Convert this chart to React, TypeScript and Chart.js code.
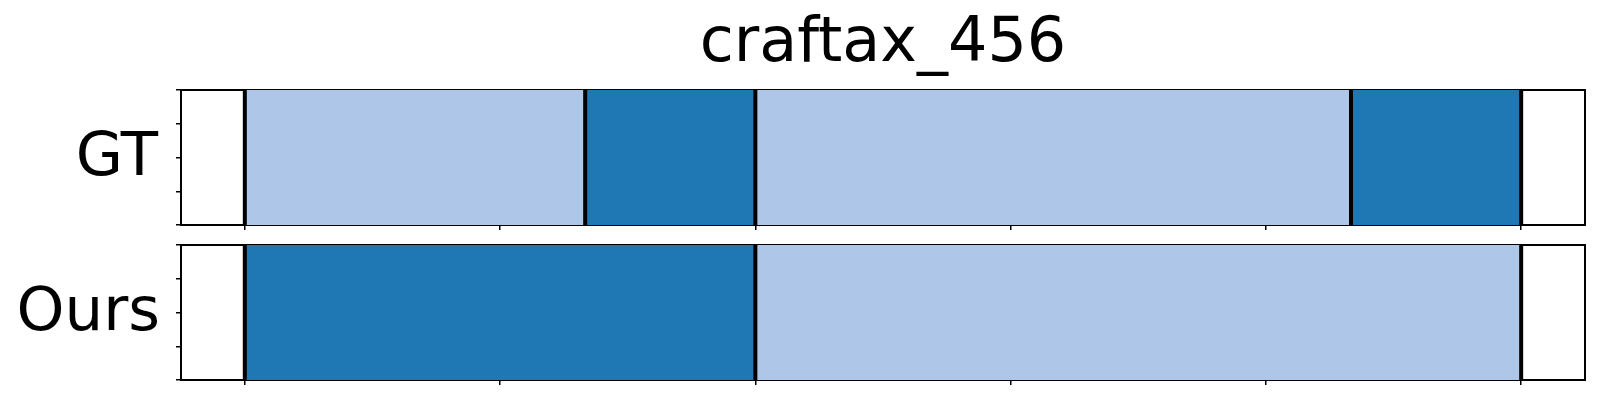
import React, { useEffect, useRef } from "react";
import { Chart, registerables } from "chart.js";

Chart.register(...registerables);

// ---- data ----
const TITLE = "craftax_456";
const ROW_LABELS = ["GT", "Ours"];
const GT_BOUNDS = [0, 4, 6, 13, 15];
const GT_CLASSES = [0, 1, 0, 1];
const OURS_BOUNDS = [0, 6, 15];
const OURS_CLASSES = [1, 0];
const X_TICKS = [0, 3, 6, 9, 12, 15];
const Y_TICKS = [0, 0.25, 0.5, 0.75, 1];
const X_RANGE = [-0.75, 15.75];

// ---- styles ----
const CLASS_COLORS = ["#aec7e8", "#1f77b4"];
const TITLE_FONT = '62px "DejaVu Sans"';
const LABEL_FONT = '61px "DejaVu Sans"';

function buildDatasets(bounds: number[], classes: number[]) {
  const segs = classes.map((c, i) => ({
    type: "line",
    data: [
      { x: bounds[i], y: 1 },
      { x: bounds[i + 1], y: 1 },
    ],
    borderColor: "rgba(0,0,0,0)",
    borderWidth: 1,
    backgroundColor: CLASS_COLORS[c],
    pointRadius: 0,
    fill: "start",
    order: 2,
    xAxisID: "x",
    yAxisID: "y",
  }));
  const lines = bounds.map((b) => ({
    type: "line",
    data: [
      { x: b, y: 0 },
      { x: b, y: 1 },
    ],
    borderColor: "#000000",
    borderWidth: 4,
    pointRadius: 0,
    fill: false,
    order: 1,
    xAxisID: "x",
    yAxisID: "y",
  }));
  return [...segs, ...lines];
}

function makeTextPlugin(label: string, title: string | null, labelShift: number) {
  return {
    id: "panelTexts",
    afterDraw(chart: any) {
      const { ctx, chartArea } = chart;
      ctx.save();
      ctx.fillStyle = "#000000";
      ctx.textBaseline = "alphabetic";
      ctx.font = LABEL_FONT;
      ctx.textAlign = "right";
      ctx.fillText(label, chartArea.left - 23 + labelShift, (chartArea.top + chartArea.bottom) / 2 + 17);
      if (title) {
        ctx.font = TITLE_FONT;
        ctx.textAlign = "center";
        ctx.fillText(title, (chartArea.left + chartArea.right) / 2, chartArea.top - 28.6);
      }
      ctx.restore();
    },
  };
}

function makeConfig(
  bounds: number[],
  classes: number[],
  label: string,
  title: string | null,
  padding: any,
  labelShift: number
) {
  const border = { display: true, color: "#000000", width: 2 };
  return {
    type: "line",
    data: { datasets: buildDatasets(bounds, classes) },
    options: {
      animation: false,
      responsive: false,
      maintainAspectRatio: false,
      layout: { padding },
      plugins: {
        legend: { display: false },
        tooltip: { enabled: false },
        title: { display: false },
      },
      scales: {
        x: {
          type: "linear",
          position: "bottom",
          min: X_RANGE[0],
          max: X_RANGE[1],
          afterBuildTicks: (ax: any) => {
            ax.ticks = X_TICKS.map((v) => ({ value: v }));
          },
          ticks: { display: false },
          grid: { drawOnChartArea: false, drawTicks: true, tickLength: 5, color: "#000000", lineWidth: 1.5 },
          border,
        },
        y: {
          type: "linear",
          position: "left",
          min: 0,
          max: 1,
          afterBuildTicks: (ax: any) => {
            ax.ticks = Y_TICKS.map((v) => ({ value: v }));
          },
          ticks: { display: false },
          grid: { drawOnChartArea: false, drawTicks: true, tickLength: 5, color: "#000000", lineWidth: 1.5 },
          border,
        },
        xTop: {
          type: "linear",
          position: "top",
          display: true,
          min: X_RANGE[0],
          max: X_RANGE[1],
          ticks: { display: false },
          grid: { drawOnChartArea: false, drawTicks: false },
          border,
        },
        yRight: {
          type: "linear",
          position: "right",
          display: true,
          min: 0,
          max: 1,
          ticks: { display: false },
          grid: { drawOnChartArea: false, drawTicks: false },
          border,
        },
      },
    },
    plugins: [makeTextPlugin(label, title, labelShift)],
  };
}

export default function App() {
  const topRef = useRef<HTMLCanvasElement>(null);
  const botRef = useRef<HTMLCanvasElement>(null);

  useEffect(() => {
    const c1 = new Chart(
      topRef.current as HTMLCanvasElement,
      makeConfig(GT_BOUNDS, GT_CLASSES, ROW_LABELS[0], TITLE, { left: 176, right: 15, top: 90, bottom: 10 }, 0) as any
    );
    const c2 = new Chart(
      botRef.current as HTMLCanvasElement,
      makeConfig(OURS_BOUNDS, OURS_CLASSES, ROW_LABELS[1], null, { left: 176, right: 15, top: 5, bottom: 15 }, 2) as any
    );
    return () => {
      c1.destroy();
      c2.destroy();
    };
  }, []);

  return (
    <div style={{ position: "absolute", left: 0, top: 0, width: 1600, height: 400, background: "#ffffff" }}>
      <canvas
        ref={topRef}
        width={1600}
        height={240}
        style={{ position: "absolute", left: 0, top: 0, width: 1600, height: 240 }}
      />
      <canvas
        ref={botRef}
        width={1600}
        height={160}
        style={{ position: "absolute", left: 0, top: 240, width: 1600, height: 160 }}
      />
    </div>
  );
}
